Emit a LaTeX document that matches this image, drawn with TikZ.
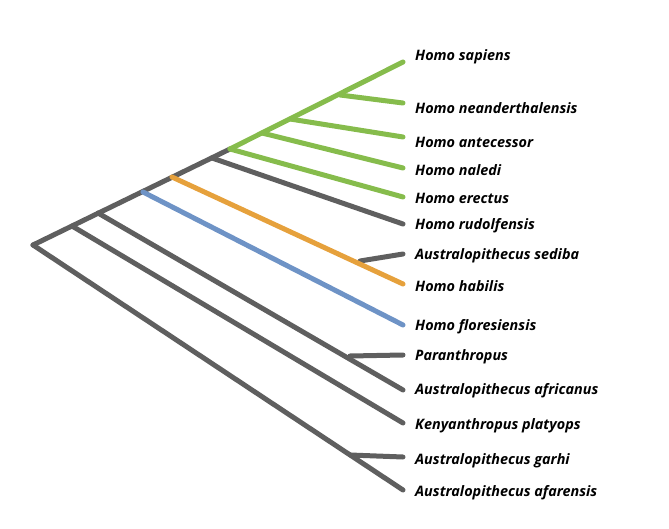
\documentclass[tikz,border=0pt]{standalone}
\usepackage{fontspec}
\setmainfont{Open Sans}
\begin{document}
\begin{tikzpicture}[x=1pt,y=-1pt,
  br/.style={line width=5pt,line cap=round,draw=gr},
  lab/.style={anchor=west,font=\fontsize{14.4}{17}\selectfont\bfseries\itshape,inner sep=0pt}]
\definecolor{gr}{HTML}{5F5F5F}
\definecolor{gn}{HTML}{86BC4C}
\definecolor{og}{HTML}{E6A13C}
\definecolor{bl}{HTML}{6E93C6}
\useasboundingbox (0,0) rectangle (669,529);
% tips
\foreach \n/\y/\ly/\t in {sap/62/57/Homo sapiens, nea/103/108/Homo neanderthalensis, ant/137/142/Homo antecessor, nal/168/170/Homo naledi, ere/197/198/Homo erectus, rud/224/226/Homo rudolfensis, sed/254/256/Australopithecus sediba, hab/284/286/Homo habilis, flo/325/327/Homo floresiensis, par/355/357/Paranthropus, afr/390/391/Australopithecus africanus, ken/423/426/Kenyanthropus platyops, gar/457/461/Australopithecus garhi, afa/490/493/Australopithecus afarensis}
  {\coordinate (\n) at (403,\y); \node[lab] (l\n) at (415,\ly) {\t};}
\coordinate (root) at (33,245);
\coordinate (a1) at (72,226);
\coordinate (a2) at (98,213);
\coordinate (a3) at (143,192);
\coordinate (a4) at (172,177);
\coordinate (a5) at (212,158);
\coordinate (a6) at (230,149);
\coordinate (a7) at (262,133);
\coordinate (a8) at (290,119);
\coordinate (a9) at (340,95);
\coordinate (gnode) at (350,455);
\coordinate (pnode) at (350,356);
\coordinate (snode) at (360,261);
% gray
\draw[br] (root) -- (a6);
\draw[br] (root) -- (afa);
\draw[br] (gnode) -- (gar);
\draw[br] (a1) -- (ken);
\draw[br] (a2) -- (afr);
\draw[br] (pnode) -- (par);
\draw[br] (a5) -- (rud);
\draw[br] (snode) -- (sed);
% colored
\draw[br,draw=bl] (a3) -- (flo);
\draw[br,draw=og] (a4) -- (hab);
\draw[br,draw=gn] (a6) -- (sap);
\draw[br,draw=gn] (a6) -- (ere);
\draw[br,draw=gn] (a7) -- (nal);
\draw[br,draw=gn] (a8) -- (ant);
\draw[br,draw=gn] (a9) -- (nea);
\end{tikzpicture}
\end{document}
